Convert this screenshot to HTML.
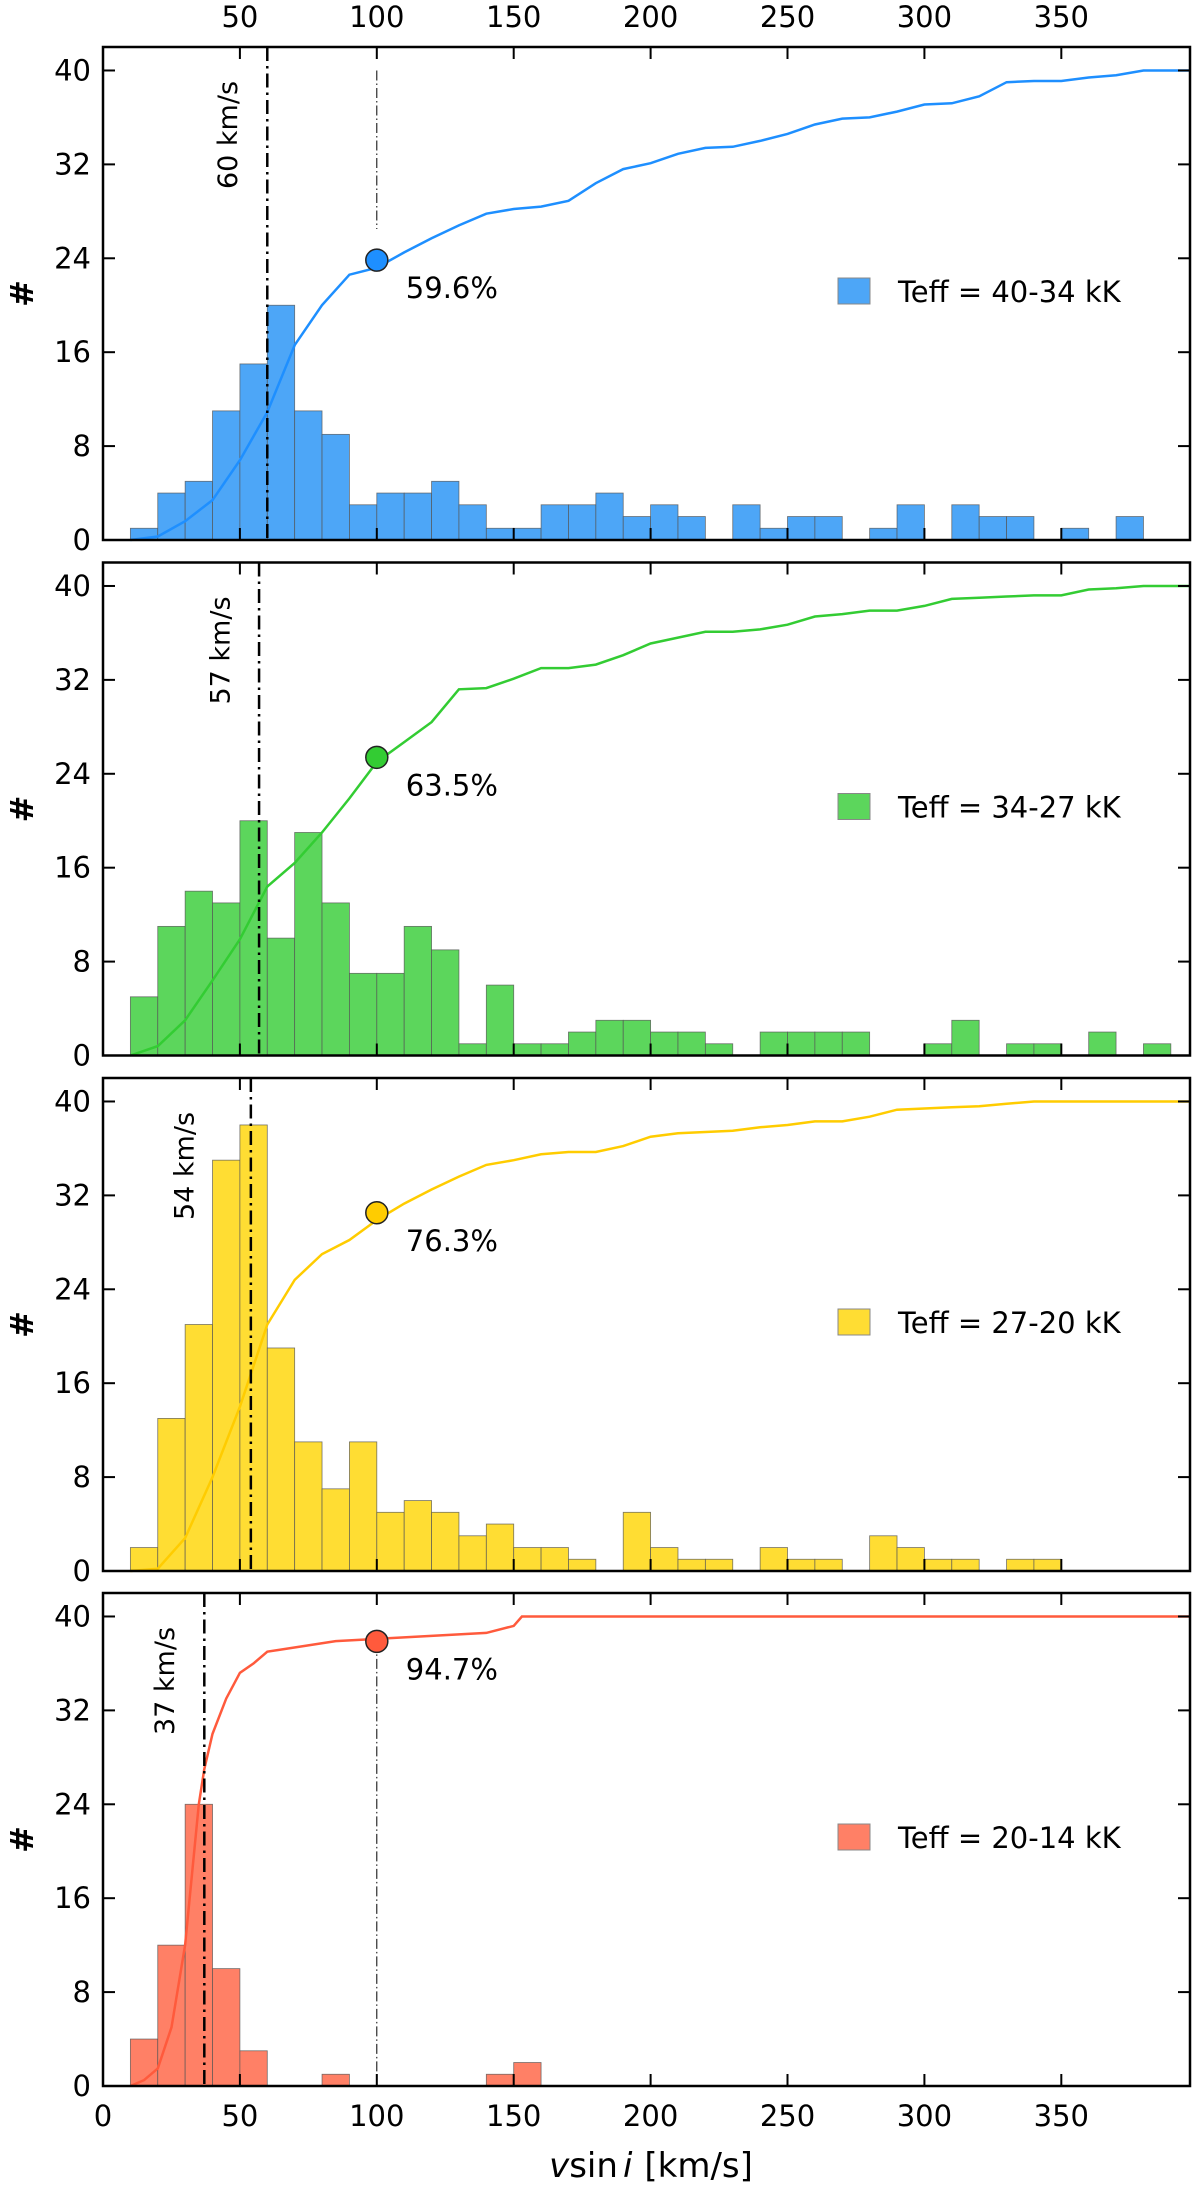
<!DOCTYPE html>
<html><head><meta charset="utf-8">
<style>
html,body{margin:0;padding:0;background:#fff;}
svg{display:block;font-family:"DejaVu Sans","Liberation Sans",sans-serif;}
</style></head>
<body>
<svg id="fig" width="1200" height="2185" viewBox="0 0 1200 2185" xmlns="http://www.w3.org/2000/svg"></svg>
<script>
// ---- data ----
const binStart = 10, binWidth = 10;
const labels = ["Teff = 40-34 kK","Teff = 34-27 kK","Teff = 27-20 kK","Teff = 20-14 kK"];
const histBlue   = [1,4,5,11,15,20,11,9,3,4,4,5,3,1,1,3,3,4,2,3,2,0,3,1,2,2,0,1,3,0,3,2,2,0,1,0,2];
const histGreen  = [5,11,14,13,20,10,19,13,7,7,11,9,1,6,1,1,2,3,3,2,2,1,0,2,2,2,2,0,0,1,3,0,1,1,0,2,0,1];
const histYellow = [2,13,21,35,38,19,11,7,11,5,6,5,3,4,2,2,1,0,5,2,1,1,0,2,1,1,0,3,2,1,1,0,1,1];
const histRed    = [4,12,24,10,3,0,0,1,0,0,0,0,0,1,2];
const cumXBlue = [10,20,30,40,50,60,70,80,90,100,110,120,130,140,150,160,170,180,190,200,210,220,230,240,250,260,270,280,290,300,310,320,330,340,350,360,370,380,397];
const cumYBlue = [0,0.3,1.6,3.4,6.8,10.9,16.6,20,22.6,23.2,24.5,25.7,26.8,27.8,28.2,28.4,28.9,30.4,31.6,32.1,32.9,33.4,33.5,34,34.6,35.4,35.9,36,36.5,37.1,37.2,37.8,39,39.1,39.1,39.4,39.6,40,40];
const cumXGreen = [10,20,30,40,50,60,70,80,90,100,110,120,130,140,150,160,170,180,190,200,210,220,230,240,250,260,270,280,290,300,310,320,330,340,350,360,370,380,397];
const cumYGreen = [0,0.8,3,6.4,9.9,14.4,16.4,19,21.9,25,26.7,28.4,31.2,31.3,32.1,33,33,33.3,34.1,35.1,35.6,36.1,36.1,36.3,36.7,37.4,37.6,37.9,37.9,38.3,38.9,39,39.1,39.2,39.2,39.7,39.8,40,40];
const cumXYellow = [10,20,30,40,50,60,70,80,90,100,110,120,130,140,150,160,170,180,190,200,210,220,230,240,250,260,270,280,290,300,310,320,330,340,397];
const cumYYellow = [0,0.2,2.8,8,14,21,24.8,27,28.2,29.9,31.3,32.5,33.6,34.6,35,35.5,35.7,35.7,36.2,37,37.3,37.4,37.5,37.8,38,38.3,38.3,38.7,39.3,39.4,39.5,39.6,39.8,40,40];
const cumXRed = [10,15,20,25,30,35,37,40,45,50,55,60,85,140,150,153,397];
const cumYRed = [0,0.5,1.5,5,12,24,27,30,33,35.2,36,37,37.9,38.6,39.2,40,40];
const medians = [60,57,54,37];
const fracs = [59.6,63.5,76.3,94.7];
const xTicks = [0,50,100,150,200,250,300,350];
const yTicks = [0,8,16,24,32,40];

// ---- layout ----
const L = 103, R = 1190, XMAX = 397, YMAX = 42;
const bottoms = [540, 1055.5, 1571, 2086];
const PH = 493;
const labelOffsets = [-39, -38, -66, -39];
const fills = ["#4da6f7","#5cd65c","#ffdd33","#ff8066"];
const lines = ["#1e8fff","#33cc33","#ffcc00","#ff5a3c"];
const hists = [histBlue,histGreen,histYellow,histRed];
const cumXs = [cumXBlue,cumXGreen,cumXYellow,cumXRed];
const cumYs = [cumYBlue,cumYGreen,cumYYellow,cumYRed];
const NS = "http://www.w3.org/2000/svg";
const svg = document.getElementById('fig');
function xs(v){ return L + (R - L) * v / XMAX; }
function mk(tag, attrs, parent){
  const e = document.createElementNS(NS, tag);
  for (const k in attrs) e.setAttribute(k, attrs[k]);
  (parent || svg).appendChild(e);
  return e;
}

for (let p = 0; p < 4; p++) {
  const bot = bottoms[p], top = bot - PH;
  const ys = v => bot - (PH / YMAX) * v;
  const g = mk('g', {});
  
  

  hists[p].forEach((c, i) => {
    if (c <= 0) return;
    const x0 = xs(binStart + i * binWidth), x1 = xs(binStart + (i + 1) * binWidth);
    const r = mk('rect', {x: x0, y: ys(c), width: x1 - x0, height: bot - ys(c), fill: fills[p], stroke: '#555', 'stroke-width': 0.8, 'stroke-opacity': 0.8}, g);
    
    
  });

  const cx = cumXs[p], cy = cumYs[p];
  const pts = cx.map((v, i) => xs(v).toFixed(1) + ',' + ys(cy[i]).toFixed(1)).join(' ');
  const pl = mk('polyline', {points: pts, fill: 'none', stroke: lines[p], 'stroke-width': 2.5}, g);
  
  

  const mx = xs(medians[p]);
  const ml = mk('line', {x1: mx, x2: mx, y1: top, y2: bot, stroke: '#000', 'stroke-width': 2.5, 'stroke-dasharray': '14 5 2.5 5'}, g);
  
  
  const mt = mk('text', {x: 0, y: 0, 'font-size': 27, 'text-anchor': 'middle', 'dominant-baseline': 'central', transform: `translate(${mx + labelOffsets[p]},${top + 88}) rotate(-90)`}, g);
  mt.textContent = medians[p] + ' km/s';
  
  

  const fy = fracs[p] * 0.4;
  const x100 = xs(100);
  if (p === 0) {
    const tl = mk('line', {x1: x100, x2: x100, y1: ys(40), y2: ys(26.5), stroke: '#000', 'stroke-width': 1, 'stroke-dasharray': '10 3 1.5 3'}, g);
    
    
  }
  if (p === 3) {
    const tl = mk('line', {x1: x100, x2: x100, y1: ys(fy), y2: bot, stroke: '#000', 'stroke-width': 1, 'stroke-dasharray': '10 3 1.5 3'}, g);
    
    
  }
  const c = mk('circle', {cx: x100, cy: ys(fy), r: 11, fill: lines[p], stroke: '#222', 'stroke-width': 1.5}, g);
  
  
  const ft = mk('text', {x: x100 + 29, y: ys(fy) + 38, 'font-size': 29}, g);
  ft.textContent = fracs[p].toFixed(1) + '%';
  
  

  const lg = mk('g', {}, g);
  
  
  mk('rect', {x: 838, y: top + 231, width: 32, height: 26, fill: fills[p], stroke: '#888', 'stroke-width': 1}, lg);
  const lt = mk('text', {x: 898, y: top + 255, 'font-size': 29}, lg);
  lt.textContent = labels[p];

  const fr = mk('rect', {x: L, y: top, width: R - L, height: PH, fill: 'none', stroke: '#000', 'stroke-width': 2.5}, g);
  
  

  xTicks.forEach(t => {
    if (t === 0) return;
    const x = xs(t);
    mk('line', {x1: x, x2: x, y1: bot, y2: bot - 12, stroke: '#000', 'stroke-width': 2}, g);
    mk('line', {x1: x, x2: x, y1: top, y2: top + 12, stroke: '#000', 'stroke-width': 2}, g);
  });
  yTicks.forEach(t => {
    const y = ys(t);
    mk('line', {x1: L, x2: L + 12, y1: y, y2: y, stroke: '#000', 'stroke-width': 2}, g);
    mk('line', {x1: R, x2: R - 12, y1: y, y2: y, stroke: '#000', 'stroke-width': 2}, g);
    const tt = mk('text', {x: 91, y: y + 10, 'font-size': 29, 'text-anchor': 'end'}, g);
    tt.textContent = t;
    
    
  });

  const yl = mk('text', {x: 0, y: 0, 'font-size': 32, 'font-weight': 'bold', 'text-anchor': 'middle', 'dominant-baseline': 'central', transform: `translate(22,${(top + bot) / 2}) rotate(-90)`}, g);
  yl.textContent = '#';
  
  
}

xTicks.forEach(t => {
  if (t !== 0) {
    const a = mk('text', {x: xs(t), y: 27, 'font-size': 29, 'text-anchor': 'middle'});
    a.textContent = t;
    
    
  }
  const b = mk('text', {x: xs(t), y: 2126, 'font-size': 29, 'text-anchor': 'middle'});
  b.textContent = t;
  
  
});

const xl = mk('text', {x: 651, y: 2177, 'font-size': 34, 'text-anchor': 'middle'});


xl.innerHTML = '<tspan font-style="italic">v</tspan>sin<tspan dx="5" font-style="italic">i</tspan><tspan dx="12">[km/s]</tspan>';
</script>
</body></html>
